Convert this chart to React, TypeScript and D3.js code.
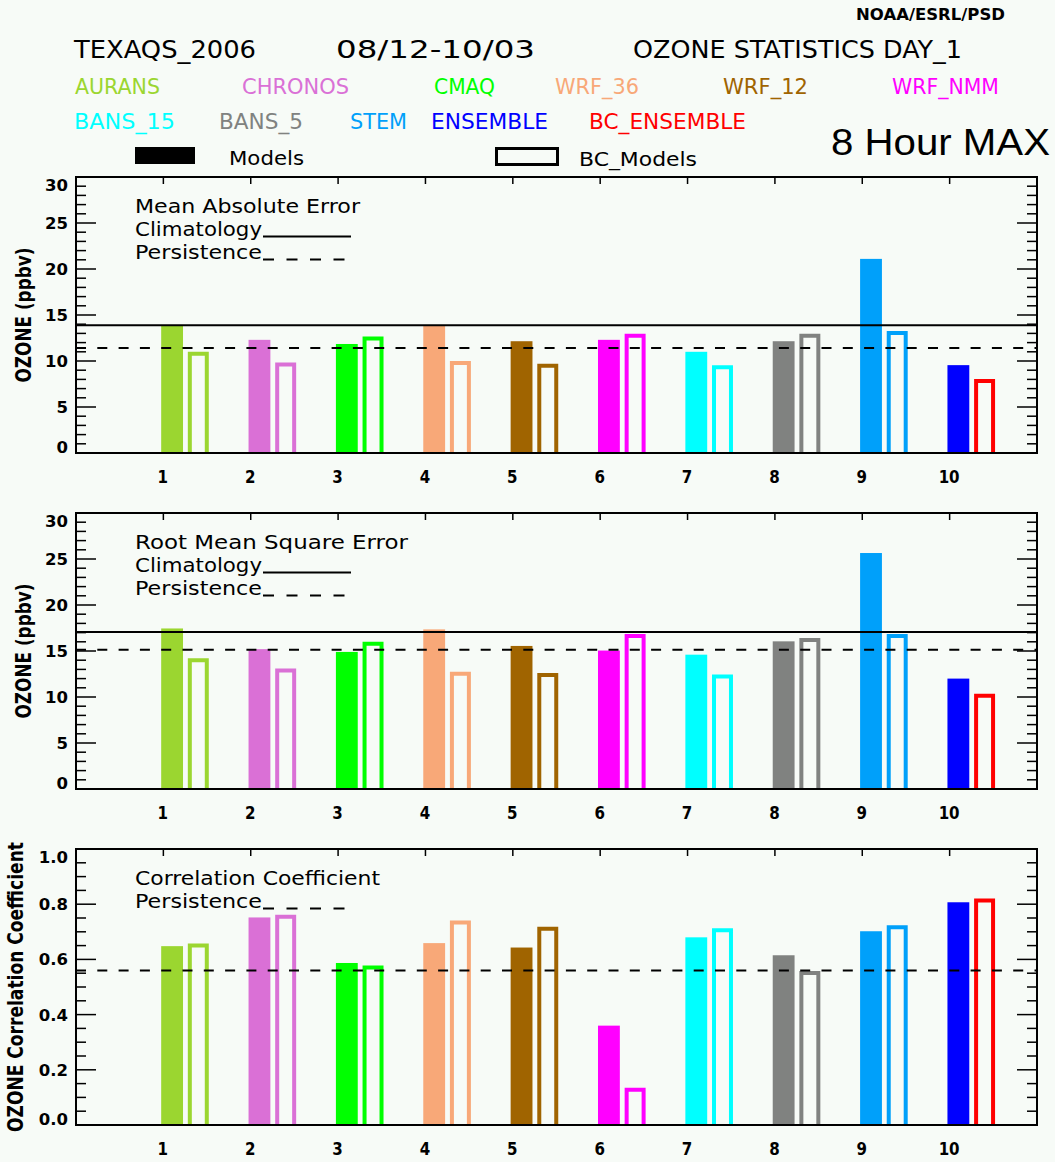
import React from "react";
import * as d3 from "d3";

// ---------- data ----------
const categories = [1, 2, 3, 4, 5, 6, 7, 8, 9, 10];
const modelNames = ["AURANS", "CHRONOS", "CMAQ", "WRF_36", "WRF_12", "WRF_NMM", "BANS_15", "BANS_5", "STEM", "ENSEMBLE", "BC_ENSEMBLE"];
const modelColors = ["#9BD630", "#DA70D6", "#00FF00", "#F8A878", "#A06400", "#FF00FF", "#00FFFF", "#808280", "#00A0FA", "#0000FF", "#FF0000"];
// filled bar colour per category, outline (BC) bar colour per category
const fillColorIdx = [0, 1, 2, 3, 4, 5, 6, 7, 8, 9];
const bcColorIdx = [0, 1, 2, 3, 4, 5, 6, 7, 8, 10];

const maeModel = [13.9, 12.3, 11.85, 13.9, 12.15, 12.3, 11.0, 12.15, 21.1, 9.55];
const maeBC = [11.0, 9.85, 12.65, 10.0, 9.7, 12.95, 9.55, 12.95, 13.25, 8.05];
const rmseModel = [17.45, 15.2, 14.9, 17.35, 15.55, 15.05, 14.6, 16.05, 25.65, 12.0];
const rmseBC = [14.2, 13.1, 16.0, 12.75, 12.6, 16.85, 12.45, 16.4, 16.85, 10.35];
const corrModel = [0.648, 0.752, 0.587, 0.659, 0.643, 0.36, 0.68, 0.615, 0.702, 0.807];
const corrBC = [0.658, 0.762, 0.578, 0.741, 0.718, 0.135, 0.713, 0.558, 0.724, 0.821];

const maeClimatology = 13.88;
const maePersistence = 11.41;
const rmseClimatology = 17.07;
const rmsePersistence = 15.14;
const corrPersistence = 0.56;

const errTicks = [0, 5, 10, 15, 20, 25, 30];
const corrTicks = [0, 0.2, 0.4, 0.6, 0.8, 1.0];

const titleTexts = ["TEXAQS_2006", "08/12-10/03", "OZONE STATISTICS DAY_1"];

// ---------- layout ----------
const W = 1055;
const H = 1162;
const BG = "#F7FBF7";
const FONT = "'DejaVu Sans', sans-serif";
const LEFT = 76;
const RIGHT = 1037;
const PH = 276;

const titleX = [74, 336, 633];
const titleW = [182, 199, 329];
const row1X = [75, 242, 434, 555, 723, 892];
const row1W = [85, 107, 61, 84, 85, 107];
const row2X = [74, 219, 350, 431, 589];
const row2W = [101, 84, 57, 117, 157];

const panels = [
  {
    top: 177, domain: [0, 30], major: errTicks, minorStep: 1, fmt: d3.format("d"),
    model: maeModel, bc: maeBC, clim: maeClimatology as number | null, pers: maePersistence,
    title: "Mean Absolute Error", titleW: 225, ytitle: "OZONE (ppbv)", ytitleX: 31, ytitleW: 135,
  },
  {
    top: 513, domain: [0, 30], major: errTicks, minorStep: 1, fmt: d3.format("d"),
    model: rmseModel, bc: rmseBC, clim: rmseClimatology as number | null, pers: rmsePersistence,
    title: "Root Mean Square Error", titleW: 273, ytitle: "OZONE (ppbv)", ytitleX: 31, ytitleW: 135,
  },
  {
    top: 849, domain: [0, 1], major: corrTicks, minorStep: 0.05, fmt: d3.format(".1f"),
    model: corrModel, bc: corrBC, clim: null as number | null, pers: corrPersistence,
    title: "Correlation Coefficient", titleW: 245, ytitle: "OZONE Correlation Coefficient", ytitleX: 23, ytitleW: 290,
  },
];

const x = d3.scaleLinear().domain([0, 11]).range([LEFT, RIGHT]);

function Panel({ p }: { p: (typeof panels)[number] }) {
  const bottom = p.top + PH;
  const y = d3.scaleLinear().domain(p.domain).range([bottom, p.top]);
  const nMinor = Math.round((p.domain[1] - p.domain[0]) / p.minorStep);
  const minor = d3.range(nMinor + 1).map((i) => p.domain[0] + i * p.minorStep);
  const isMajor = (v: number) => p.major.some((m) => Math.abs(m - v) < 1e-6);
  const cy = (p.top + bottom) / 2;
  const hasClim = p.clim !== null;
  const persLegendY = p.top + (hasClim ? 82 : 59);
  return (
    <g>
      {/* bars */}
      {categories.map((c, i) => {
        const x0 = x(c - 0.025);
        const x1 = x(c + 0.225);
        const yt = y(p.model[i]);
        return <rect key={"f" + c} x={x0} y={yt} width={x1 - x0} height={bottom - yt} fill={modelColors[fillColorIdx[i]]} />;
      })}
      {categories.map((c, i) => {
        const x0 = x(c + 0.28) + 2;
        const x1 = x(c + 0.52) - 2;
        const yt = y(p.bc[i]) + 2;
        const d = `M${x0},${bottom}V${yt}H${x1}V${bottom}`;
        return <path key={"b" + c} d={d} fill="none" stroke={modelColors[bcColorIdx[i]]} strokeWidth={4} strokeLinejoin="miter" />;
      })}
      {/* reference lines */}
      {hasClim && <line x1={LEFT} x2={RIGHT} y1={y(p.clim as number)} y2={y(p.clim as number)} stroke="#000" strokeWidth={2} />}
      <line x1={LEFT} x2={RIGHT} y1={y(p.pers)} y2={y(p.pers)} stroke="#000" strokeWidth={2} strokeDasharray="10,11.3" />
      {/* frame */}
      <rect x={LEFT} y={p.top} width={RIGHT - LEFT} height={PH} fill="none" stroke="#000" strokeWidth={2} />
      {/* y ticks */}
      {minor.map((v) => {
        const len = isMajor(v) ? 20 : 10;
        return (
          <g key={"t" + v}>
            <line x1={LEFT} x2={LEFT + len} y1={y(v)} y2={y(v)} stroke="#000" strokeWidth={1.5} />
            <line x1={RIGHT} x2={RIGHT - len} y1={y(v)} y2={y(v)} stroke="#000" strokeWidth={1.5} />
          </g>
        );
      })}
      {p.major.map((v) => {
        const ty = Math.max(p.top + 8, Math.min(bottom - 5.5, y(v)));
        return (
          <text key={"l" + v} x={68} y={ty} dy="0.36em" textAnchor="end" fontFamily={FONT} fontWeight="bold" fontSize={16.5}>
            {p.fmt(v)}
          </text>
        );
      })}
      {/* x ticks & labels */}
      {categories.map((c) => (
        <g key={"x" + c}>
          <line x1={x(c)} x2={x(c)} y1={p.top} y2={p.top + 7} stroke="#000" strokeWidth={1.5} />
          <text x={x(c) - 0.5} y={bottom + 30} textAnchor="middle" fontFamily={FONT} fontWeight="bold" fontSize={17}
            textLength={String(c).length * 10.5} lengthAdjust="spacingAndGlyphs">
            {c}
          </text>
        </g>
      ))}
      {/* y title */}
      <text transform={`translate(${p.ytitleX},${cy}) rotate(-90)`} textAnchor="middle" fontFamily={FONT} fontWeight="bold"
        fontSize={21} textLength={p.ytitleW} lengthAdjust="spacingAndGlyphs">
        {p.ytitle}
      </text>
      {/* in-panel legend */}
      <text x={135} y={p.top + 36} fontFamily={FONT} fontSize={20} textLength={p.titleW} lengthAdjust="spacingAndGlyphs">
        {p.title}
      </text>
      {hasClim && (
        <g>
          <text x={135} y={p.top + 59} fontFamily={FONT} fontSize={20} textLength={127} lengthAdjust="spacingAndGlyphs">Climatology</text>
          <line x1={263} x2={351} y1={p.top + 59.5} y2={p.top + 59.5} stroke="#000" strokeWidth={2} />
        </g>
      )}
      <text x={135} y={persLegendY} fontFamily={FONT} fontSize={20} textLength={127} lengthAdjust="spacingAndGlyphs">Persistence</text>
      <line x1={263} x2={349} y1={persLegendY + 0.5} y2={persLegendY + 0.5} stroke="#000" strokeWidth={2} strokeDasharray="11,12.5" />
    </g>
  );
}

export default function App() {
  return (
    <svg width={W} height={H} viewBox={`0 0 ${W} ${H}`} style={{ position: "absolute", left: 0, top: 0, display: "block" }}>
      <rect x={0} y={0} width={W} height={H} fill={BG} />
      {/* header */}
      <text x={856} y={20} fontFamily={FONT} fontWeight="bold" fontSize={15} textLength={149} lengthAdjust="spacingAndGlyphs">NOAA/ESRL/PSD</text>
      {titleTexts.map((t, i) => (
        <text key={t} x={titleX[i]} y={58} fontFamily={FONT} fontSize={24} textLength={titleW[i]} lengthAdjust="spacingAndGlyphs">{t}</text>
      ))}
      {modelNames.slice(0, 6).map((n, i) => (
        <text key={n} x={row1X[i]} y={94} fill={modelColors[i]} fontFamily={FONT} fontSize={21} textLength={row1W[i]} lengthAdjust="spacingAndGlyphs">{n}</text>
      ))}
      {modelNames.slice(6).map((n, i) => (
        <text key={n} x={row2X[i]} y={129} fill={modelColors[i + 6]} fontFamily={FONT} fontSize={21} textLength={row2W[i]} lengthAdjust="spacingAndGlyphs">{n}</text>
      ))}
      <text x={831} y={155} fontFamily="'Liberation Sans', sans-serif" fontSize={37} textLength={219} lengthAdjust="spacingAndGlyphs">8 Hour MAX</text>
      <rect x={135} y={147} width={60} height={17} fill="#000" />
      <text x={229} y={165} fontFamily={FONT} fontSize={20} textLength={75} lengthAdjust="spacingAndGlyphs">Models</text>
      <rect x={496.5} y={148.5} width={61} height={16} fill="none" stroke="#000" strokeWidth={3} />
      <text x={579} y={166} fontFamily={FONT} fontSize={20} textLength={118} lengthAdjust="spacingAndGlyphs">BC_Models</text>
      {panels.map((p, i) => (
        <Panel key={i} p={p} />
      ))}
    </svg>
  );
}
